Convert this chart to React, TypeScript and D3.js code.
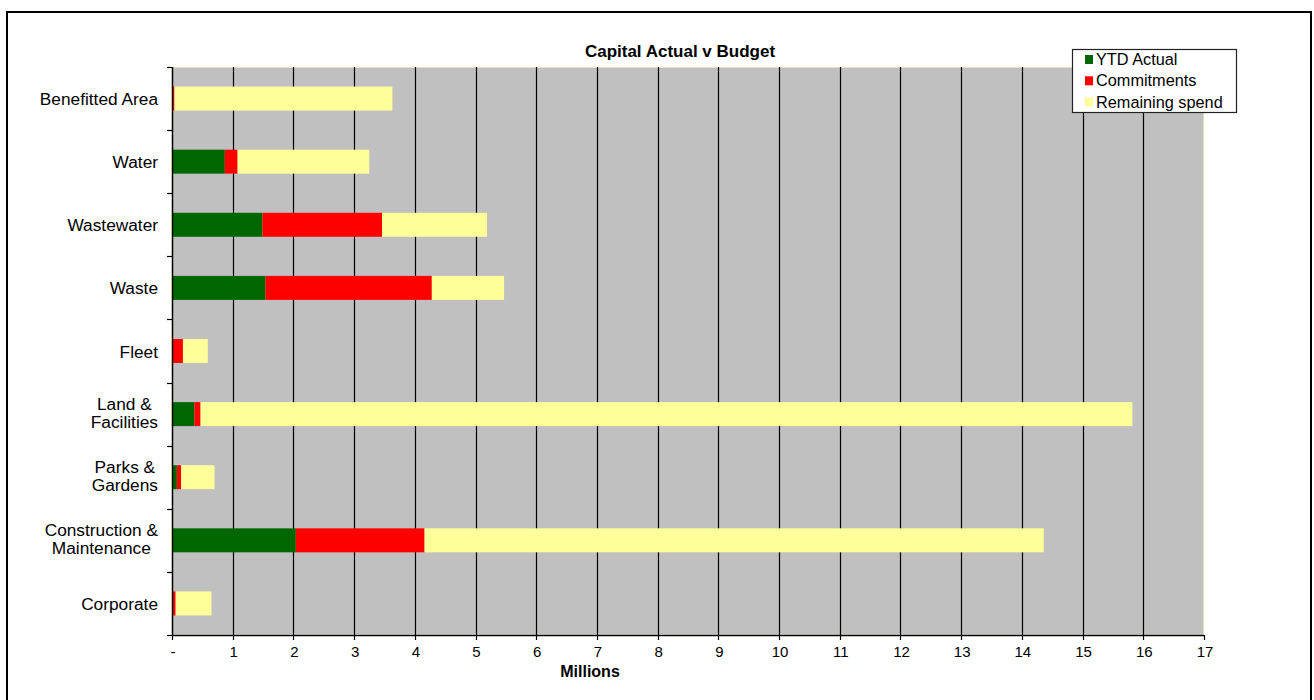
import React, { useEffect, useRef } from "react";
import * as d3 from "d3";

const categories = [
  "Benefitted Area",
  "Water",
  "Wastewater",
  "Waste",
  "Fleet",
  "Land & Facilities",
  "Parks & Gardens",
  "Construction & Maintenance",
  "Corporate",
];
const categoryLabelLines = [
  ["Benefitted Area"],
  ["Water"],
  ["Wastewater"],
  ["Waste"],
  ["Fleet"],
  ["Land &", "Facilities"],
  ["Parks &", "Gardens"],
  ["Construction &", "Maintenance"],
  ["Corporate"],
];
const ytdActual = [0, 0.87, 1.49, 1.54, 0, 0.37, 0.08, 2.04, 0];
const commitments = [0.04, 0.21, 1.97, 2.74, 0.18, 0.1, 0.07, 2.12, 0.06];
const remainingSpend = [3.59, 2.17, 1.73, 1.19, 0.41, 15.35, 0.55, 10.2, 0.59];
const seriesKeys = ["ytd", "commit", "remain"];
const seriesNames = ["YTD Actual", "Commitments", "Remaining spend"];
const seriesColors = ["#006600", "#ff0000", "#ffff99"];
const xTickValues = d3.range(0, 18);
const xTickLabels = ["-", "1", "2", "3", "4", "5", "6", "7", "8", "9", "10", "11", "12", "13", "14", "15", "16", "17"];
const chartTitle = "Capital Actual v Budget";
const xAxisTitle = "Millions";

const W = 1314;
const H = 700;
const FONT = "'Liberation Sans', Arial, sans-serif";

export default function App() {
  const ref = useRef<SVGSVGElement | null>(null);

  useEffect(() => {
    const svg = d3.select(ref.current);
    svg.selectAll("*").remove();

    const left = 172, right = 1204, top = 67, bottom = 635;

    const x = d3.scaleLinear().domain([0, 17]).range([left, right]);
    const y = d3.scaleBand<string>().domain(categories).range([top, bottom]).padding(0);
    const barH = y.bandwidth() * 0.38;

    // outer frame
    svg.append("rect").attr("x", 0).attr("y", 0).attr("width", W).attr("height", H).attr("fill", "#fff");
    svg.append("rect")
      .attr("x", 7).attr("y", 12).attr("width", 1304).attr("height", 720)
      .attr("fill", "none").attr("stroke", "#000").attr("stroke-width", 2);

    // plot area
    svg.append("rect")
      .attr("x", left).attr("y", top).attr("width", right - left).attr("height", bottom - top)
      .attr("fill", "#c0c0c0").attr("stroke", "#ffffcc").attr("stroke-width", 1);

    // gridlines
    svg.append("g").selectAll("line")
      .data(xTickValues.filter((v) => v > 0 && v < 17))
      .join("line")
      .attr("x1", (d) => Math.round(x(d)) + 0.5).attr("x2", (d) => Math.round(x(d)) + 0.5)
      .attr("y1", top).attr("y2", bottom)
      .attr("stroke", "#000").attr("stroke-width", 1.2);

    // stacked bars
    const table = categories.map((c, i) => ({
      cat: c,
      ytd: ytdActual[i],
      commit: commitments[i],
      remain: remainingSpend[i],
    }));
    const stacked = d3.stack<any>().keys(seriesKeys)(table);
    stacked.forEach((layer, li) => {
      svg.append("g").selectAll("rect")
        .data(layer)
        .join("rect")
        .attr("x", (d) => x(d[0]))
        .attr("width", (d) => Math.max(0, x(d[1]) - x(d[0])))
        .attr("y", (d) => (y(d.data.cat) as number) + (y.bandwidth() - barH) / 2)
        .attr("height", barH)
        .attr("fill", seriesColors[li]);
    });

    // x axis
    svg.append("line")
      .attr("x1", left).attr("x2", right).attr("y1", bottom + 0.5).attr("y2", bottom + 0.5)
      .attr("stroke", "#000").attr("stroke-width", 1.5);
    svg.append("g").selectAll("line")
      .data(xTickValues)
      .join("line")
      .attr("x1", (d) => Math.round(x(d)) + 0.5).attr("x2", (d) => Math.round(x(d)) + 0.5)
      .attr("y1", bottom).attr("y2", bottom + 5)
      .attr("stroke", "#000").attr("stroke-width", 1.2);
    svg.append("g").selectAll("text")
      .data(xTickValues)
      .join("text")
      .attr("x", (d) => x(d) + 1)
      .attr("y", 657)
      .attr("text-anchor", "middle")
      .attr("font-family", FONT)
      .attr("font-size", 15)
      .attr("fill", "#000")
      .text((d, i) => xTickLabels[i]);

    // y axis
    svg.append("line")
      .attr("x1", left + 0.5).attr("x2", left + 0.5).attr("y1", top).attr("y2", bottom)
      .attr("stroke", "#000").attr("stroke-width", 1.5);
    const boundaries = d3.range(0, categories.length + 1).map((i) => top + i * y.step());
    svg.append("g").selectAll("line")
      .data(boundaries)
      .join("line")
      .attr("x1", left - 5).attr("x2", left)
      .attr("y1", (d) => Math.round(d) + 0.5).attr("y2", (d) => Math.round(d) + 0.5)
      .attr("stroke", "#000").attr("stroke-width", 1.2);

    // category labels
    const labelRight = 158;
    categories.forEach((c, i) => {
      const lines = categoryLabelLines[i];
      const cy = (y(c) as number) + y.bandwidth() / 2;
      const g = svg.append("g");
      const texts = lines.map((ln, k) => {
        const base = lines.length === 1 ? cy + 6.5 : cy - 4.5 + k * 18;
        return g.append("text")
          .attr("y", base)
          .attr("font-family", FONT)
          .attr("font-size", 17.3)
          .attr("fill", "#000")
          .attr("text-anchor", "middle")
          .text(ln);
      });
      const widths = texts.map((t) => (t.node() as SVGTextElement).getComputedTextLength());
      const maxW = Math.max(...widths);
      const cx = labelRight - maxW / 2;
      texts.forEach((t) => t.attr("x", cx));
    });

    // title
    svg.append("text")
      .attr("x", 680).attr("y", 57)
      .attr("text-anchor", "middle")
      .attr("font-family", FONT).attr("font-size", 17).attr("font-weight", "bold")
      .attr("fill", "#000")
      .text(chartTitle);

    svg.append("text")
      .attr("x", 590).attr("y", 677)
      .attr("text-anchor", "middle")
      .attr("font-family", FONT).attr("font-size", 16).attr("font-weight", "bold")
      .attr("fill", "#000")
      .text(xAxisTitle);

    // legend
    const lg = svg.append("g");
    lg.append("rect")
      .attr("x", 1072.5).attr("y", 49.5).attr("width", 164).attr("height", 63)
      .attr("fill", "#fff").attr("stroke", "#222").attr("stroke-width", 1.2);
    seriesNames.forEach((name, i) => {
      const cy = 59.5 + i * 21.3;
      lg.append("rect")
        .attr("x", 1085).attr("y", cy - 4.5).attr("width", 8).attr("height", 9)
        .attr("fill", seriesColors[i]);
      lg.append("text")
        .attr("x", 1096).attr("y", cy + 5.5)
        .attr("font-family", FONT).attr("font-size", 16.3)
        .attr("fill", "#000")
        .text(name);
    });
  }, []);

  return (
    <svg
      ref={ref}
      width={W}
      height={H}
      style={{ position: "absolute", left: 0, top: 0, display: "block" }}
    />
  );
}
